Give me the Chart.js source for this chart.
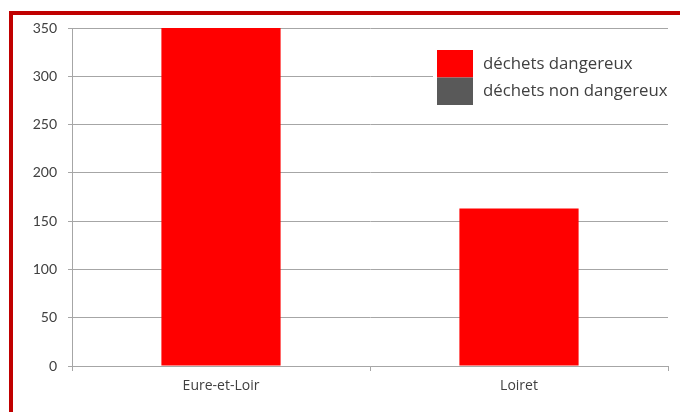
<!DOCTYPE html>
<html>
<head>
<meta charset="utf-8">
<script src="https://cdn.jsdelivr.net/npm/chart.js@4"></script>
<style>
  body { margin: 0; background: #fff; }
  #wrap { position: relative; width: 680px; height: 412px; }
  #frame {
    position: absolute; left: 9px; top: 11px; right: -10px; bottom: -10px;
    border-left: 4px solid #c00000; border-top: 4px solid #c00000;
  }
  canvas { position: absolute; left: 0; top: 0; }
</style>
</head>
<body>
<div id="wrap">
  <div id="frame"></div>
  <canvas id="chart" width="680" height="412"></canvas>
</div>
<script>
const categories = ['Eure-et-Loir', 'Loiret'];
const dangerous = [350, 163];
const nonDangerous = [0, 0];
const seriesLabels = ['déchets dangereux', 'déchets non dangereux'];
const seriesColors = ['#ff0000', '#595959'];

const FONT = 'Lato, "Open Sans", sans-serif';
const WIDE = '"Open Sans", sans-serif';
const TEXT = '#404040';
const GRID = '#a6a6a6';

// legend drawn by hand, top right inside plot area
const boxLegend = {
    id: 'boxLegend',
    afterDraw(chart) {
        const ctx = chart.ctx;
        const x = 437, y = 50, w = 36, h = 27.5;
        ctx.save();
        ctx.fillStyle = '#fff';
        ctx.fillRect(x - 4, y, chart.chartArea.right - x + 4, h * 2);
        chart.data.datasets.forEach((ds, i) => {
            ctx.fillStyle = ds.backgroundColor;
            ctx.fillRect(x, y + i * h, w, h);
            ctx.fillStyle = TEXT;
            ctx.font = '16.8px ' + WIDE;
            ctx.textBaseline = 'middle';
            ctx.fillText(ds.label, x + w + 10, y + i * h + h / 2);
        });
        ctx.restore();
    }
};

new Chart(document.getElementById('chart'), {
    type: 'bar',
    data: {
        labels: categories,
        datasets: [
            { label: seriesLabels[0], data: dangerous, backgroundColor: seriesColors[0] },
            { label: seriesLabels[1], data: nonDangerous, backgroundColor: seriesColors[1] }
        ]
    },
    options: {
        responsive: false,
        animation: false,
        layout: { padding: { left: 0, right: 12, top: 28, bottom: 0 } },
        datasets: { bar: { categoryPercentage: 1, barPercentage: 0.4 } },
        plugins: {
            legend: { display: false },
            tooltip: { enabled: false }
        },
        scales: {
            x: {
                stacked: true,
                grid: { drawOnChartArea: false, drawTicks: true, tickLength: 5, color: GRID, offset: true },
                border: { color: GRID },
                ticks: { color: TEXT, font: { family: WIDE, size: 14 }, padding: 7 },
                afterFit: s => { s.height = 46; }
            },
            y: {
                stacked: true,
                min: 0, max: 350,
                grid: { color: GRID, tickLength: 4 },
                border: { color: GRID },
                ticks: { stepSize: 50, color: TEXT, font: { family: FONT, size: 14 }, padding: 11 },
                afterFit: s => { s.width = 72; }
            }
        }
    },
    plugins: [boxLegend]
});
</script>
</body>
</html>
